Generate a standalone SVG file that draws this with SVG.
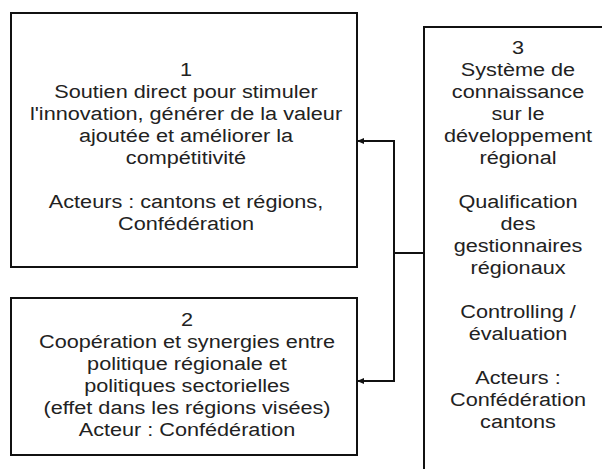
<svg xmlns="http://www.w3.org/2000/svg" width="602" height="469" viewBox="0 0 602 469">
<style>
.box{fill:#fff;stroke:#111;stroke-width:2}
.t{font-family:"Liberation Sans",Arial,sans-serif;font-size:19px;fill:#222;text-anchor:middle}
.c{fill:none;stroke:#111;stroke-width:2}
</style>
<defs>
<marker id="ah" markerUnits="userSpaceOnUse" markerWidth="8" markerHeight="8" refX="6" refY="4" orient="auto">
<path d="M0,1 L7,4 L0,7 z" fill="#111"/>
</marker>
</defs>
<rect width="602" height="469" fill="#fff"/>
<g id="node1">
<rect class="box" x="11" y="13" width="346" height="254"/>
<g transform="translate(186,0) scale(1.14,1)">
<text class="t" x="0" y="76">1</text>
<text class="t" x="0" y="98">Soutien direct pour stimuler</text>
<text class="t" x="0" y="120">l'innovation, générer de la valeur</text>
<text class="t" x="0" y="142">ajoutée et améliorer la</text>
<text class="t" x="0" y="164">compétitivité</text>
<text class="t" x="0" y="208">Acteurs : cantons et régions,</text>
<text class="t" x="0" y="230">Confédération</text>
</g>
</g>
<g id="node2">
<rect class="box" x="11" y="298" width="346" height="157"/>
<g transform="translate(187,0) scale(1.14,1)">
<text class="t" x="0" y="326">2</text>
<text class="t" x="0" y="348">Coopération et synergies entre</text>
<text class="t" x="0" y="370">politique régionale et</text>
<text class="t" x="0" y="392">politiques sectorielles</text>
<text class="t" x="0" y="414">(effet dans les régions visées)</text>
<text class="t" x="0" y="436">Acteur : Confédération</text>
</g>
</g>
<g id="node3">
<rect class="box" x="424" y="27" width="200" height="460"/>
<g transform="translate(518,0) scale(1.14,1)">
<text class="t" x="0" y="54">3</text>
<text class="t" x="0" y="76">Système de</text>
<text class="t" x="0" y="98">connaissance</text>
<text class="t" x="0" y="120">sur le</text>
<text class="t" x="0" y="142">développement</text>
<text class="t" x="0" y="164">régional</text>
<text class="t" x="0" y="208">Qualification</text>
<text class="t" x="0" y="230">des</text>
<text class="t" x="0" y="252">gestionnaires</text>
<text class="t" x="0" y="274">régionaux</text>
<text class="t" x="0" y="318">Controlling /</text>
<text class="t" x="0" y="340">évaluation</text>
<text class="t" x="0" y="384">Acteurs :</text>
<text class="t" x="0" y="406">Confédération</text>
<text class="t" x="0" y="428">cantons</text>
</g>
</g>
<g id="connectors">
<path class="c" d="M424,253 H394"/>
<path class="c" d="M394,141 V381"/>
<path class="c" d="M395,141 H358" marker-end="url(#ah)"/>
<path class="c" d="M395,381 H358" marker-end="url(#ah)"/>
</g>
</svg>
